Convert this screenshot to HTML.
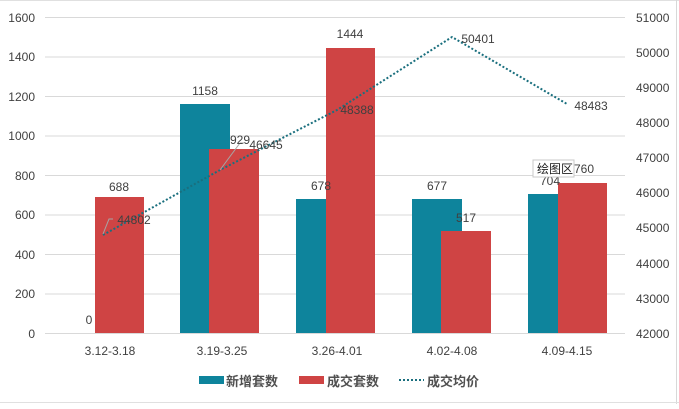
<!DOCTYPE html>
<html><head><meta charset="utf-8"><style>
body{margin:0;background:#fff;}
svg text{font-family:"Liberation Sans","Noto Sans CJK SC",sans-serif;}
</style></head><body>
<svg width="679" height="404" xmlns="http://www.w3.org/2000/svg">
<rect width="679" height="404" fill="#fff"/>
<line x1="0" y1="0.5" x2="679" y2="0.5" stroke="#e0e0e0"/>
<line x1="676.5" y1="0" x2="676.5" y2="404" stroke="#d8d8d8"/>
<line x1="0" y1="402.5" x2="679" y2="402.5" stroke="#e0e0e0"/>
<g stroke="#d9d9d9" stroke-width="1">
<line x1="45" y1="17.5" x2="625" y2="17.5"/>
<line x1="45" y1="57" x2="625" y2="57"/>
<line x1="45" y1="96.5" x2="625" y2="96.5"/>
<line x1="45" y1="136" x2="625" y2="136"/>
<line x1="45" y1="175.5" x2="625" y2="175.5"/>
<line x1="45" y1="215" x2="625" y2="215"/>
<line x1="45" y1="254.5" x2="625" y2="254.5"/>
<line x1="45" y1="294" x2="625" y2="294"/>
<line x1="45" y1="333.5" x2="625" y2="333.5"/>
</g>
<g font-size="12" fill="#404040" text-anchor="end">
<text x="35" y="22">1600</text><text x="35" y="61">1400</text><text x="35" y="101">1200</text>
<text x="35" y="140">1000</text><text x="35" y="180">800</text><text x="35" y="219">600</text>
<text x="35" y="259">400</text><text x="35" y="298">200</text><text x="35" y="338">0</text>
</g>
<g font-size="12" fill="#404040" text-anchor="start">
<text x="636" y="22">51000</text><text x="636" y="57">50000</text><text x="636" y="92">49000</text>
<text x="636" y="127">48000</text><text x="636" y="162">47000</text><text x="636" y="197">46000</text>
<text x="636" y="232">45000</text><text x="636" y="268">44000</text><text x="636" y="303">43000</text>
<text x="636" y="338">42000</text>
</g>
<g fill="#0e849c">
<rect x="180" y="104" width="50" height="229"/>
<rect x="296" y="199" width="50" height="134"/>
<rect x="412" y="199" width="50" height="134"/>
<rect x="528" y="194" width="50" height="139"/>
</g>
<g fill="#cf4444">
<rect x="95" y="197" width="49" height="136"/>
<rect x="209" y="149" width="50" height="184"/>
<rect x="326" y="48" width="49" height="285"/>
<rect x="441" y="231" width="50" height="102"/>
<rect x="558" y="183" width="49" height="150"/>
</g>
<polyline points="103,235 220,170 337,110 452,37 567,104" fill="none" stroke="#1a6f7e" stroke-width="2" stroke-dasharray="2,2"/>
<g stroke="#a6a6a6" fill="none">
<polyline points="103,234 109,219 113,219"/>
<polyline points="220,170 240,143 244,143"/>
</g>
<g font-size="12" fill="#404040" text-anchor="middle">
<text x="89" y="324">0</text><text x="119" y="191">688</text>
<text x="205" y="95">1158</text><text x="240" y="144">929</text>
<text x="321" y="190">678</text><text x="350" y="38">1444</text>
<text x="437" y="190">677</text><text x="466" y="222">517</text>
<text x="550" y="185">704</text><text x="584" y="173">760</text>
<text x="134" y="224">44802</text><text x="266" y="149">46645</text>
<text x="357" y="114">48388</text><text x="478" y="43">50401</text>
<text x="591" y="110">48483</text>
</g>
<rect x="533" y="160" width="41" height="17" fill="#fff" stroke="#c8c8c8"/>
<text x="537" y="173" font-size="12" fill="#202020">绘图区</text>
<g font-size="12" fill="#404040" text-anchor="middle">
<text x="110" y="355">3.12-3.18</text><text x="222" y="355">3.19-3.25</text>
<text x="337" y="355">3.26-4.01</text><text x="452" y="355">4.02-4.08</text>
<text x="567" y="355">4.09-4.15</text>
</g>
<rect x="199" y="376" width="25" height="8" fill="#0e849c"/>
<text x="226" y="386" font-size="13" font-weight="bold" fill="#505050">新增套数</text>
<rect x="299" y="376" width="25" height="8" fill="#cf4444"/>
<text x="327" y="386" font-size="13" font-weight="bold" fill="#505050">成交套数</text>
<line x1="399" y1="380" x2="424" y2="380" stroke="#1a6f7e" stroke-width="2" stroke-dasharray="2,2"/>
<text x="427" y="386" font-size="13" font-weight="bold" fill="#505050">成交均价</text>
</svg>
</body></html>
